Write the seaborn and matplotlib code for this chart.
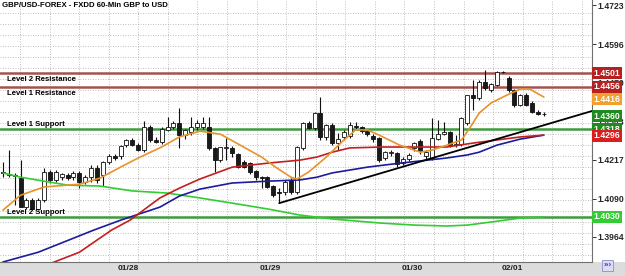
import numpy as np
import seaborn as sns
import matplotlib
matplotlib.use("Agg")
import matplotlib.pyplot as plt
from matplotlib.patches import Rectangle

# hourly candles
opens = [1.4177, 1.4167, 1.4167, 1.4157, 1.4062, 1.4085, 1.4056, 1.4085, 1.4177, 1.4151,
         1.4160, 1.4167, 1.4160, 1.4174, 1.4144, 1.4160, 1.4190, 1.4167, 1.4210, 1.4229,
         1.4229, 1.4265, 1.4282, 1.4265, 1.4249, 1.4324, 1.4282, 1.4275, 1.4315, 1.4324,
         1.4338, 1.4298, 1.4308, 1.4324, 1.4324, 1.4324, 1.4256, 1.4216, 1.4256, 1.4256,
         1.4236, 1.4210, 1.4206, 1.4180, 1.4160, 1.4160, 1.4131, 1.4111, 1.4111, 1.4151,
         1.4111, 1.4256, 1.4338, 1.4321, 1.4370, 1.4292, 1.4331, 1.4272, 1.4292, 1.4295,
         1.4328, 1.4324, 1.4311, 1.4295, 1.4288, 1.4223, 1.4239, 1.4239, 1.4206, 1.4219,
         1.4256, 1.4279, 1.4229, 1.4223, 1.4285, 1.4301, 1.4308, 1.4265, 1.4269, 1.4338,
         1.4429, 1.4420, 1.4472, 1.4446, 1.4462, 1.4505, 1.4485, 1.4446, 1.4397, 1.4429,
         1.4403, 1.4374, 1.4367]
highs = [1.4210, 1.4249, 1.4174, 1.4216, 1.4092, 1.4092, 1.4092, 1.4190, 1.4183, 1.4183,
         1.4174, 1.4174, 1.4180, 1.4180, 1.4167, 1.4200, 1.4200, 1.4213, 1.4236, 1.4236,
         1.4265, 1.4285, 1.4288, 1.4272, 1.4344, 1.4331, 1.4292, 1.4324, 1.4357, 1.4344,
         1.4387, 1.4318, 1.4357, 1.4347, 1.4357, 1.4357, 1.4259, 1.4259, 1.4288, 1.4262,
         1.4239, 1.4216, 1.4210, 1.4183, 1.4164, 1.4164, 1.4134, 1.4124, 1.4151, 1.4157,
         1.4262, 1.4341, 1.4344, 1.4374, 1.4423, 1.4334, 1.4338, 1.4305, 1.4315, 1.4341,
         1.4341, 1.4328, 1.4315, 1.4301, 1.4292, 1.4246, 1.4249, 1.4242, 1.4226, 1.4239,
         1.4275, 1.4285, 1.4249, 1.4354, 1.4347, 1.4341, 1.4311, 1.4298, 1.4357, 1.4429,
         1.4479, 1.4479, 1.4511, 1.4469, 1.4508, 1.4508, 1.4492, 1.4449, 1.4433, 1.4436,
         1.4410, 1.4380, 1.4374]
lows = [1.4160, 1.4160, 1.4069, 1.4062, 1.4056, 1.4052, 1.4052, 1.4080, 1.4141, 1.4144,
        1.4151, 1.4151, 1.4151, 1.4124, 1.4138, 1.4144, 1.4141, 1.4131, 1.4203, 1.4216,
        1.4219, 1.4259, 1.4262, 1.4246, 1.4242, 1.4275, 1.4272, 1.4269, 1.4311, 1.4318,
        1.4256, 1.4285, 1.4300, 1.4315, 1.4318, 1.4249, 1.4177, 1.4210, 1.4216, 1.4226,
        1.4190, 1.4190, 1.4170, 1.4151, 1.4124, 1.4124, 1.4095, 1.4075, 1.4101, 1.4105,
        1.4105, 1.4249, 1.4318, 1.4315, 1.4282, 1.4282, 1.4265, 1.4249, 1.4282, 1.4288,
        1.4318, 1.4305, 1.4295, 1.4275, 1.4210, 1.4216, 1.4229, 1.4193, 1.4200, 1.4213,
        1.4246, 1.4236, 1.4216, 1.4216, 1.4282, 1.4298, 1.4259, 1.4259, 1.4262, 1.4331,
        1.4380, 1.4413, 1.4446, 1.4440, 1.4459, 1.4502, 1.4440, 1.4390, 1.4393, 1.4393,
        1.4370, 1.4364, 1.4360]
closes = [1.4174, 1.4170, 1.4164, 1.4062, 1.4085, 1.4056, 1.4085, 1.4177, 1.4151, 1.4177,
          1.4170, 1.4157, 1.4174, 1.4144, 1.4160, 1.4190, 1.4151, 1.4210, 1.4229, 1.4223,
          1.4262, 1.4282, 1.4265, 1.4249, 1.4324, 1.4282, 1.4275, 1.4318, 1.4324, 1.4338,
          1.4298, 1.4315, 1.4324, 1.4338, 1.4338, 1.4256, 1.4216, 1.4259, 1.4259, 1.4239,
          1.4193, 1.4193, 1.4177, 1.4160, 1.4157, 1.4128, 1.4101, 1.4108, 1.4144, 1.4111,
          1.4259, 1.4338, 1.4321, 1.4370, 1.4292, 1.4331, 1.4272, 1.4285, 1.4308, 1.4331,
          1.4324, 1.4311, 1.4301, 1.4285, 1.4216, 1.4242, 1.4242, 1.4203, 1.4219, 1.4233,
          1.4272, 1.4246, 1.4242, 1.4288, 1.4301, 1.4308, 1.4265, 1.4269, 1.4354, 1.4429,
          1.4420, 1.4472, 1.4452, 1.4465, 1.4505, 1.4505, 1.4446, 1.4397, 1.4429, 1.4397,
          1.4374, 1.4367, 1.4367]

# moving averages, sampled at candle indices
orange_idx = [0, 3, 7, 11, 13, 16.5, 20, 23, 27, 30, 33.5, 37, 40, 44, 46.6, 49, 50, 52, 55,
              58, 60, 62, 64, 67.5, 71, 73, 75.5, 78, 79.5, 81, 83, 85.7, 88, 89.6, 92]
orange_val = [1.4052, 1.4101, 1.4128, 1.4134, 1.4137, 1.4157, 1.4193, 1.4223, 1.4259, 1.4292,
              1.4311, 1.4301, 1.4269, 1.4226, 1.4190, 1.4160, 1.4154, 1.4177, 1.4226, 1.4282,
              1.4315, 1.4315, 1.4298, 1.4265, 1.4242, 1.4249, 1.4265, 1.4282, 1.4324, 1.4370,
              1.4403, 1.4429, 1.4449, 1.4449, 1.4423]
red_idx = [7, 13, 18.5, 21.6, 26.7, 30, 33.5, 39, 45, 50.5, 53.4, 56, 59, 64.6, 70, 75.5, 80, 84, 88, 92]
red_val = [1.3869, 1.3914, 1.3987, 1.4019, 1.4092, 1.4124, 1.4154, 1.4193, 1.4206, 1.4216,
           1.4226, 1.4242, 1.4256, 1.4259, 1.4259, 1.4259, 1.4272, 1.4282, 1.4292, 1.4298]
blue_idx = [0, 6, 15.5, 20, 26.7, 30, 33.5, 39, 45, 50.5, 53.4, 56, 62, 67.5, 75.5, 79, 81, 84, 88, 92]
blue_val = [1.3882, 1.3914, 1.3987, 1.4019, 1.4062, 1.4098, 1.4121, 1.4141, 1.4147, 1.4151,
            1.4160, 1.4174, 1.4193, 1.4206, 1.4223, 1.4233, 1.4242, 1.4265, 1.4285, 1.4298]
green_idx = [0, 3, 11, 16.5, 22, 28, 33.5, 39, 45, 50.5, 56, 64, 70, 75.5, 79, 83, 88, 92]
green_val = [1.4174, 1.4160, 1.4134, 1.4131, 1.4115, 1.4108, 1.4092, 1.4075, 1.4056, 1.4036,
             1.4023, 1.4010, 1.4003, 1.4000, 1.4003, 1.4013, 1.4026, 1.4030]
trend_idx = [47, 100.2]
trend_val = [1.4075, 1.4377]

level_names = ["Level 2 Resistance", "Level 1 Resistance", "Level 1 Support", "Level 2 Support"]
level_values = [1.4501, 1.4456, 1.4318, 1.4030]

marker_values = [1.4501, 1.4456, 1.4416, 1.4360, 1.4318, 1.4296, 1.4030]
price_ticks = [1.4723, 1.4596, 1.4470, 1.4343, 1.4217, 1.4090, 1.3964]
date_idx = [21.3, 45.4, 69.6, 86.7]
date_labels = ["01/28", "01/29", "01/30", "02/01"]

sns.set_style("white")
plt.rcParams["font.family"] = ["Liberation Sans", "DejaVu Sans"]

fig = plt.figure(figsize=(6.25, 2.76), dpi=100)
fig.patches.append(Rectangle((0, 0), 1, 14 / 276, transform=fig.transFigure,
                             facecolor="#dcdcdc", edgecolor="none", zorder=-5))
ax = fig.add_axes([0, 14 / 276, 592 / 625, 262 / 276])

ymax, ymin = 1.4741, 1.3882
ax.set_xlim(-0.5, 100.2)
ax.set_ylim(ymin, ymax)

# dotted grid
ppx = (ymax - ymin) / 262
for gy in np.arange(ymax - 13 * ppx, ymin, -11 * ppx):
    ax.axhline(gy, color="#a8a8a8", lw=0.6, ls=(0, (1, 2)), zorder=1)
for gx in np.arange(2.9, 100.2, 5.03):
    ax.axvline(gx, color="#a8a8a8", lw=0.6, ls=(0, (1, 2)), zorder=1)

# support / resistance levels
level_colors = ["#a5524f", "#a5524f", "#3f9a3f", "#3f9a3f"]
level_side = ["below", "below", "above", "above"]
for name, val, col, side in zip(level_names, level_values, level_colors, level_side):
    ax.axhline(val, color=col, lw=1.8, zorder=2)
    off = -2 if side == "below" else 0.5
    ax.annotate(name, xy=(0.011, val), xycoords=ax.get_yaxis_transform(),
                xytext=(0, off), textcoords="offset points",
                va="top" if side == "below" else "bottom", ha="left",
                fontsize=5.6, fontweight="bold", color="black", zorder=7)

# candles
idx = np.arange(len(opens))
o = np.array(opens); c = np.array(closes)
ax.vlines(idx, lows, highs, color="#111111", lw=0.8, zorder=3)
bottoms = np.minimum(o, c)
heights = np.maximum(np.abs(c - o), 0.00012)
faces = ["white" if cc >= oo else "#1a1a1a" for oo, cc in zip(o, c)]
ax.bar(idx, heights, bottom=bottoms, width=0.68, color=faces,
       edgecolor="#111111", linewidth=0.6, zorder=4)

# moving averages and trend line
sns.lineplot(x=green_idx, y=green_val, ax=ax, color="#33cc33", lw=1.2, zorder=5)
sns.lineplot(x=blue_idx, y=blue_val, ax=ax, color="#1c1c9c", lw=1.2, zorder=5)
sns.lineplot(x=red_idx, y=red_val, ax=ax, color="#c41e1e", lw=1.2, zorder=5)
sns.lineplot(x=orange_idx, y=orange_val, ax=ax, color="#e8922a", lw=1.2, zorder=5)
sns.lineplot(x=trend_idx, y=trend_val, ax=ax, color="black", lw=1.3, zorder=5)

# axes styling
for s in ["left", "top"]:
    ax.spines[s].set_visible(False)
for s in ["right", "bottom"]:
    ax.spines[s].set_color("#707070")
    ax.spines[s].set_linewidth(0.8)
ax.yaxis.tick_right()
ax.set_yticks(price_ticks)
ax.set_yticklabels([f"{v:.4f}" for v in price_ticks], fontsize=6.2, fontweight="bold")
ax.tick_params(axis="y", length=3, width=0.7, pad=1.2, color="#333333")
ax.set_xticks(date_idx)
ax.set_xticklabels(date_labels, fontsize=6, fontweight="bold", color="#222222")
ax.tick_params(axis="x", length=0, pad=2.5)
ax.set_xlabel(""); ax.set_ylabel("")

# price boxes on the right edge
marker_colors = ["#b52020", "#b52020", "#f0a030", "#1f8a1f", "#1f8a1f", "#d81e1e", "#33cc33"]
for val, col in zip(marker_values, marker_colors):
    ax.annotate(f"{val:.4f}", xy=(1, val), xycoords=ax.get_yaxis_transform(),
                xytext=(1.2, 0), textcoords="offset points", va="center", ha="left",
                fontsize=6.2, fontweight="bold", color="white", annotation_clip=False,
                bbox=dict(boxstyle="square,pad=0.15", fc=col, ec="none"), zorder=8)

ax.text(0.004, 0.992, "GBP/USD-FOREX - FXDD 60-Min GBP to USD", transform=ax.transAxes,
        va="top", ha="left", fontsize=5.6, fontweight="bold", color="black", zorder=7)

fig.text(0.972, 0.025, "\u203a\u203a\u203a", ha="center", va="bottom", fontsize=6,
         fontweight="bold", color="#3a3ac0",
         bbox=dict(boxstyle="square,pad=0.2", fc="#dcdcf5", ec="#8c8cc8", lw=0.6))

fig.savefig("out.png", dpi=100, facecolor="white")
